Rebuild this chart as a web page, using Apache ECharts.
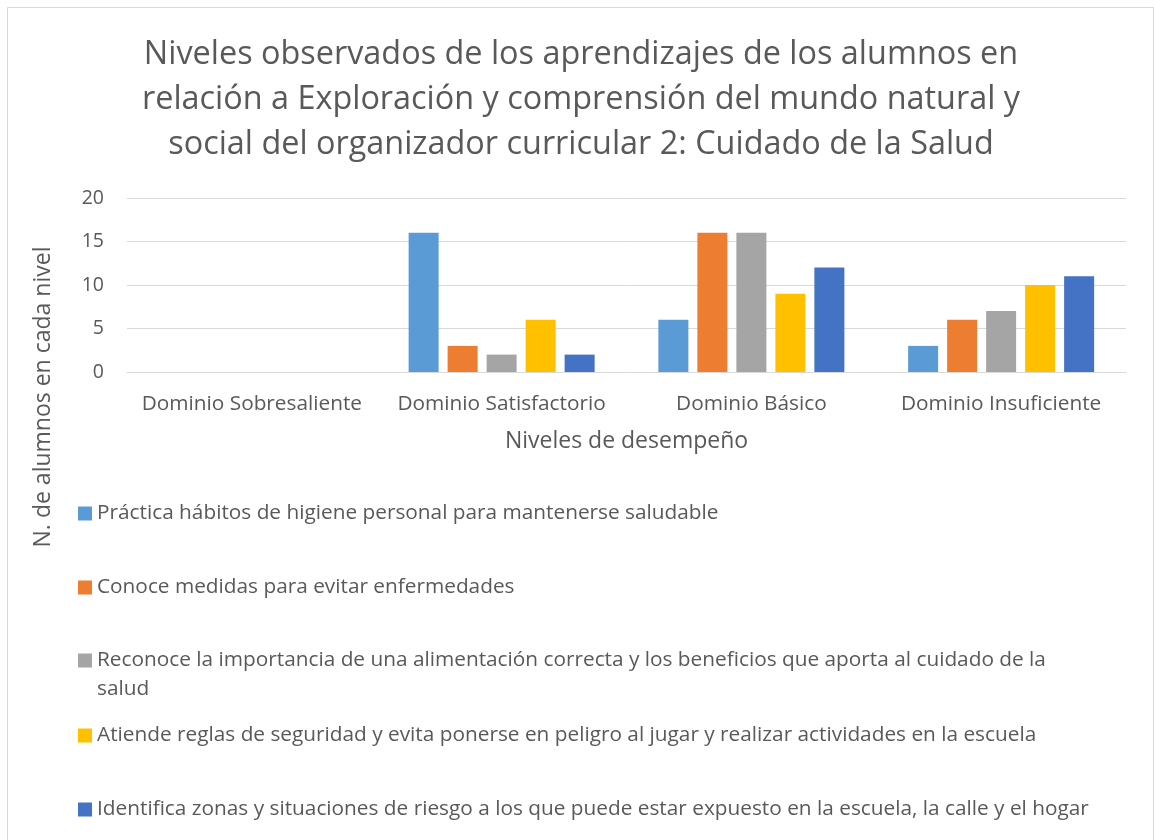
<!DOCTYPE html>
<html>
<head>
<meta charset="utf-8">
<script src="https://cdn.jsdelivr.net/npm/echarts@6/dist/echarts.min.js"></script>
<style>
  html, body { margin: 0; padding: 0; background: #fff; }
  #chart { width: 1155px; height: 840px; }
</style>
</head>
<body>
<div id="chart"></div>
<script>
const categories = ["Dominio Sobresaliente", "Dominio Satisfactorio", "Dominio Básico", "Dominio Insuficiente"];
const seriesNames = [
  "Práctica hábitos de higiene personal para mantenerse saludable",
  "Conoce medidas para evitar enfermedades",
  "Reconoce la importancia de una alimentación correcta y los beneficios que aporta al cuidado de la salud",
  "Atiende reglas de seguridad y evita ponerse en peligro al jugar y realizar actividades en la escuela",
  "Identifica zonas y situaciones de riesgo a los que puede estar expuesto en la escuela, la calle y el hogar"
];
const higiene = [0, 16, 6, 3];
const enfermedades = [0, 3, 16, 6];
const alimentacion = [0, 2, 16, 7];
const seguridad = [0, 6, 9, 10];
const riesgo = [0, 2, 12, 11];
const yTicks = [0, 5, 10, 15, 20];

const colors = ["#5B9BD5", "#ED7D31", "#A5A5A5", "#FFC000", "#4472C4"];
const font = "'Open Sans', sans-serif";
const textColor = "#595959";

const chart = echarts.init(document.getElementById("chart"));

const seriesData = [higiene, enfermedades, alimentacion, seguridad, riesgo];
const series = seriesData.map((d, i) => ({
  name: seriesNames[i],
  type: "bar",
  data: d,
  barWidth: 30,
  barGap: "30%",
  itemStyle: { color: colors[i] },
  animation: false
}));

// one legend per row like the Excel layout; the 3rd entry wraps, marker stays on its first line
const legendCenters = [512, 586, 661, 734, 808];
const legends = seriesNames.map((n, i) => ({
  data: [n],
  orient: "vertical",
  left: 78,
  top: i === 2 ? legendCenters[i] - 44 : legendCenters[i] - 13,
  padding: 0,
  itemWidth: 14,
  itemHeight: 14,
  icon: "rect",
  selectedMode: false,
  formatter: name => (i === 2 ? " \n" + name.replace(" de la salud", " de la\nsalud") : name),
  textStyle: {
    fontFamily: font,
    fontSize: 20.8,
    color: textColor,
    lineHeight: 29
  }
}));

chart.setOption({
  backgroundColor: "#fff",
  color: colors,
  title: {
    text: "Niveles observados de los aprendizajes de los alumnos en\nrelación a Exploración y comprensión del mundo natural y\nsocial del organizador curricular 2: Cuidado de la Salud",
    left: 581,
    top: 32,
    textAlign: "center",
    padding: 0,
    textStyle: {
      fontFamily: font,
      fontSize: 32.4,
      fontWeight: "normal",
      color: textColor,
      lineHeight: 45
    }
  },
  legend: legends,
  grid: { left: 127, right: 29, top: 198, bottom: 468 },
  xAxis: {
    type: "category",
    data: categories,
    name: "Niveles de desempeño",
    nameLocation: "middle",
    nameGap: 58,
    nameTextStyle: { fontFamily: font, fontSize: 23, color: textColor },
    axisLine: { lineStyle: { color: "#D9D9D9", width: 1 } },
    axisTick: { show: false },
    axisLabel: { fontFamily: font, fontSize: 20.8, color: textColor, margin: 22, interval: 0 }
  },
  yAxis: {
    type: "value",
    min: yTicks[0],
    max: yTicks[yTicks.length - 1],
    interval: yTicks[1] - yTicks[0],
    axisLine: { show: false },
    axisTick: { show: false },
    splitLine: { lineStyle: { color: "#D9D9D9", width: 1 } },
    axisLabel: { fontFamily: font, fontSize: 19.5, color: textColor, margin: 23 }
  },
  graphic: [
    {
      type: "rect",
      shape: { x: 7.5, y: 7.5, width: 1146, height: 900 },
      style: { fill: null, stroke: "#D9D9D9", lineWidth: 1 },
      silent: true,
      z: -1
    },
    {
      type: "text",
      x: 43,
      y: 397,
      rotation: Math.PI / 2,
      style: {
        text: "N. de alumnos en cada nivel",
        fontFamily: font,
        fontSize: 23,
        fill: textColor,
        align: "center",
        verticalAlign: "middle"
      }
    }
  ],
  series
});
</script>
</body>
</html>
